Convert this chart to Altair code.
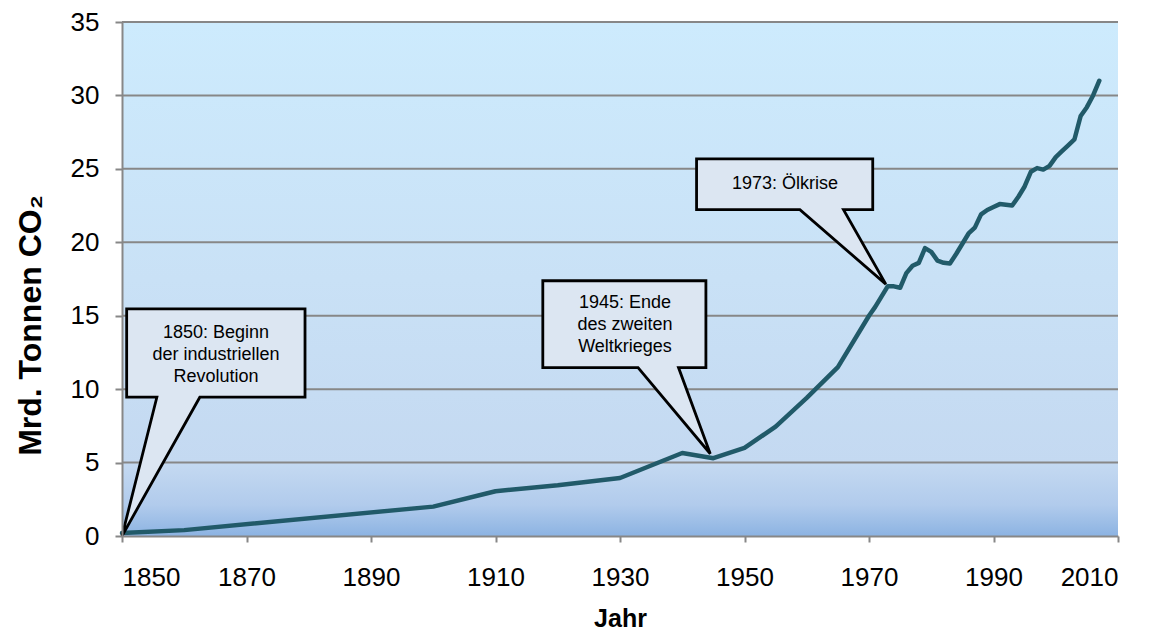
import altair as alt
import pandas as pd

# --- data ---
years = [1850, 1860, 1900, 1910, 1920, 1930, 1940, 1945, 1950, 1955, 1960, 1965,
         1970, 1971, 1972, 1973, 1974, 1975, 1976, 1977, 1978, 1979, 1980, 1981,
         1982, 1983, 1984, 1985, 1986, 1987, 1988, 1989, 1990, 1991, 1992, 1993,
         1994, 1995, 1996, 1997, 1998, 1999, 2000, 2001, 2002, 2003, 2004, 2005,
         2006, 2007]
co2 = [0.2, 0.4, 2.0, 3.05, 3.45, 3.95, 5.65, 5.3, 6.0, 7.45, 9.4, 11.5,
       15.0, 15.6, 16.3, 17.0, 17.0, 16.9, 17.9, 18.4, 18.6, 19.6, 19.35, 18.75,
       18.6, 18.55, 19.2, 19.9, 20.6, 21.0, 21.9, 22.2, 22.4, 22.6, 22.55, 22.5,
       23.1, 23.8, 24.8, 25.05, 24.95, 25.2, 25.8, 26.2, 26.6, 27.0, 28.6, 29.2,
       30.0, 31.0]

x_ticks = [1850, 1870, 1890, 1910, 1930, 1950, 1970, 1990, 2010]
y_ticks = [0, 5, 10, 15, 20, 25, 30, 35]

note_texts = ["1850: Beginn\nder industriellen\nRevolution",
              "1945: Ende\ndes zweiten\nWeltkrieges",
              "1973: Ölkrise"]
# anchor = first text line
note_text_x = [1865.1, 1930.8, 1956.5]
note_text_y = [13.84, 15.86, 23.97]

# callout outlines (year, value) – box corners + pointer
callout_ids = [0] * 7 + [1] * 7 + [2] * 7
callout_x = [1850.75, 1879.4, 1879.4, 1862.5, 1850.0, 1855.6, 1850.75,
             1917.6, 1943.8, 1943.8, 1939.4, 1944.5, 1932.9, 1917.6,
             1942.3, 1970.6, 1970.6, 1965.9, 1972.7, 1958.9, 1942.3]
callout_y = [15.47, 15.47, 9.45, 9.45, 0.0, 9.45, 9.45,
             17.38, 17.38, 11.47, 11.47, 5.6, 11.47, 11.47,
             25.68, 25.68, 22.22, 22.22, 17.15, 22.22, 22.22]

FONT = "Liberation Sans"
xscale = alt.Scale(domain=[1850, 2010], nice=False, zero=False)
yscale = alt.Scale(domain=[0, 35], nice=False)

df = pd.DataFrame({"Jahr": years, "CO2": co2})
bg_df = pd.DataFrame({"x": [1850], "x2": [2010], "y": [0], "y2": [35]})
grid_df = pd.DataFrame({"y": y_ticks[1:]})
call_df = pd.DataFrame({"id": callout_ids, "x": callout_x, "y": callout_y,
                        "i": list(range(len(callout_x)))})
text_df = pd.DataFrame({"t": note_texts, "x": note_text_x, "y": note_text_y})

x_axis = alt.Axis(values=x_ticks, format="d", title="Jahr", grid=False,
                  tickSize=6, labelPadding=22, titleY=82, titleBaseline="middle",
                  titleFontSize=25, zindex=1)
y_axis = alt.Axis(values=y_ticks, title="Mrd. Tonnen CO₂", grid=False,
                  tickSize=7, labelPadding=16, titleX=-92, titleY=303,
                  titleAngle=270, titleBaseline="middle", titleAlign="center",
                  titleFontSize=32, zindex=1)

bg = alt.Chart(bg_df).mark_rect(
    fill=alt.Gradient(
        gradient="linear", x1=0, x2=0, y1=0, y2=1,
        stops=[alt.GradientStop(offset=0, color="#CDEBFD"),
               alt.GradientStop(offset=0.5, color="#C9E1F6"),
               alt.GradientStop(offset=0.86, color="#C4D9F1"),
               alt.GradientStop(offset=0.94, color="#B1CBEC"),
               alt.GradientStop(offset=1, color="#8CB3E2")]),
    strokeWidth=0,
).encode(
    x=alt.X("x:Q", scale=xscale, axis=x_axis),
    x2="x2:Q",
    y=alt.Y("y:Q", scale=yscale, axis=y_axis),
    y2="y2:Q",
)

grid = alt.Chart(grid_df).mark_rule(color="#878787", strokeWidth=2).encode(
    y=alt.Y("y:Q", scale=yscale)
)

line = alt.Chart(df).mark_line(color="#215A69", strokeWidth=4.5,
                               strokeJoin="round", strokeCap="round").encode(
    x=alt.X("Jahr:Q", scale=xscale),
    y=alt.Y("CO2:Q", scale=yscale),
)

callouts = alt.Chart(call_df).mark_line(
    interpolate="linear-closed", fill="#DCE6F2", stroke="black",
    strokeWidth=2.8, strokeJoin="miter"
).encode(
    x=alt.X("x:Q", scale=xscale),
    y=alt.Y("y:Q", scale=yscale),
    detail="id:N",
    order=alt.Order("i:Q"),
)

texts = alt.Chart(text_df).mark_text(
    font=FONT, fontSize=18, color="black", align="center", baseline="middle",
    lineBreak="\n", lineHeight=22
).encode(
    x=alt.X("x:Q", scale=xscale),
    y=alt.Y("y:Q", scale=yscale),
    text="t:N",
)

chart = alt.layer(bg, grid, line, callouts, texts).properties(
    width=996, height=514,
    autosize=alt.AutoSizeParams(type="none"),
    padding={"left": 114, "top": 14, "right": 26, "bottom": 94},
    background="white",
).configure_view(strokeWidth=0).configure_axis(
    labelFont=FONT, labelFontSize=26, labelColor="black",
    titleFont=FONT, titleFontWeight="bold", titleColor="black",
    domainColor="#878787", domainWidth=2, tickColor="#878787", tickWidth=2,
)

chart.save("out.html", embed_options={"renderer": "svg", "actions": False})
